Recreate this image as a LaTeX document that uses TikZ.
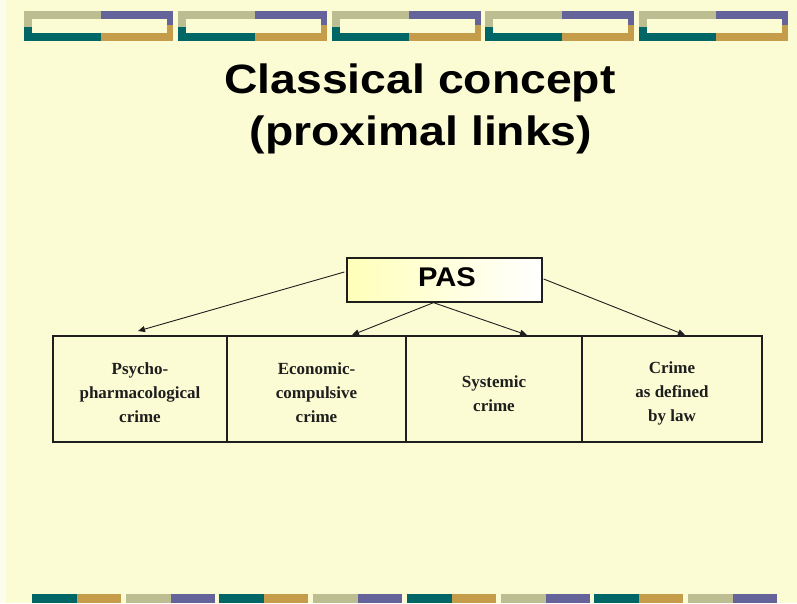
\documentclass[tikz,border=0pt]{standalone}
\usepackage{fontspec}
\setmainfont{Liberation Serif}
\newfontfamily\arialfont{Liberation Sans}
\usetikzlibrary{arrows.meta,calc}
\definecolor{bg}{RGB}{252,252,212}
\definecolor{edgebg}{RGB}{253,253,236}
\definecolor{olive}{RGB}{188,189,145}
\definecolor{purp}{RGB}{100,100,154}
\definecolor{teal2}{RGB}{0,102,102}
\definecolor{gold2}{RGB}{196,156,74}
\definecolor{ink}{RGB}{30,30,30}
\definecolor{pasleft}{RGB}{255,255,185}
\tikzset{
  cellbox/.style={draw=ink, line width=1.3pt, minimum height=106pt, inner sep=0pt},
  celltext/.style={align=center, font=\fontsize{17}{24}\selectfont\bfseries, text=ink},
  link/.style={draw=ink, line width=0.9pt, -{Triangle[length=7pt,width=6pt]}},
  titletext/.style={anchor=base, font=\arialfont\bfseries\fontsize{41}{52}\selectfont, text=black},
}
\begin{document}
\begin{tikzpicture}[x=1pt,y=-1pt]
\useasboundingbox (0,0) rectangle (797,603);
\fill[bg] (0,0) rectangle (797,603);
\fill[edgebg] (0,0) rectangle (6,603);
% top frames
\foreach \k in {0,...,4}{
  \pgfmathsetmacro{\xo}{24+153.75*\k}
  \fill[olive] (\xo,11) rectangle ++(77,8);
  \fill[olive] (\xo,11) rectangle ++(8,16);
  \fill[purp] (\xo+77,11) rectangle (\xo+149,19);
  \fill[purp] (\xo+143,11) rectangle (\xo+149,25);
  \fill[teal2] (\xo,27) rectangle (\xo+8,41);
  \fill[teal2] (\xo,33) rectangle (\xo+77,41);
  \fill[gold2] (\xo+77,33) rectangle (\xo+149,41);
  \fill[gold2] (\xo+143,25) rectangle (\xo+149,41);
}
% bottom blocks
\foreach \k in {0,...,7}{
  \pgfmathsetmacro{\xo}{32+93.7*\k}
  \pgfmathtruncatemacro{\parity}{mod(\k,2)}
  \ifnum\parity=0
    \fill[teal2] (\xo,594) rectangle (\xo+45,603);
    \fill[gold2] (\xo+45,594) rectangle (\xo+89,603);
  \else
    \fill[olive] (\xo,594) rectangle (\xo+45,603);
    \fill[purp] (\xo+45,594) rectangle (\xo+89,603);
  \fi
}
% title
\node[titletext] (t1) at (420,93) {\scalebox{1.13}[1]{Classical concept}};
\node[titletext] (t2) at (421,145) {\scalebox{1.13}[1]{(proximal links)}};
% PAS box
\node[draw=ink, line width=1.3pt, left color=pasleft, right color=white,
      minimum width=195pt, minimum height=44pt, inner sep=0pt] (pas) at (444.5,280) {};
\node[anchor=base, font=\arialfont\bfseries\fontsize{27}{30}\selectfont] (pastext) at (447,286) {\scalebox{1.08}[1]{PAS}};
% cells
\node[cellbox, minimum width=174pt] (b1) at (140,389) {};
\node[cellbox, minimum width=179pt] (b2) at (316.5,389) {};
\node[cellbox, minimum width=176pt] (b3) at (494,389) {};
\node[cellbox, minimum width=180pt] (b4) at (672,389) {};
\node[celltext] (c1) at (140,393) {Psycho-\\pharmacological\\crime};
\node[celltext] (c2) at (316.5,393) {Economic-\\compulsive\\crime};
\node[celltext] (c3) at (494,394) {Systemic\\crime};
\node[celltext] (c4) at (672,393) {Crime\\as defined\\by law};
% arrows
\coordinate (s1) at ($(pas.west)+(-2,-8)$);
\coordinate (s2) at ($(pas.south)+(-11,0)$);
\coordinate (s4) at ($(pas.east)+(1,-1)$);
\coordinate (e1) at (138,331);
\coordinate (e2) at (352,335);
\coordinate (e3) at (527,335);
\coordinate (e4) at (685,335);
\draw[link] (s1) -- (e1);
\draw[link] (s2) -- (e2);
\draw[link] (s2) -- (e3);
\draw[link] (s4) -- (e4);
\end{tikzpicture}
\end{document}
